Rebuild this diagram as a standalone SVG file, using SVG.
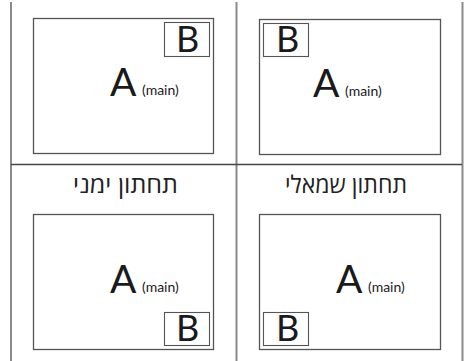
<svg xmlns="http://www.w3.org/2000/svg" width="465" height="361" viewBox="0 0 465 361">
<style>
.grid{stroke:#8a8a8a;stroke-width:2;fill:none}
.hline{stroke:#454545;stroke-width:1.5;fill:none}
.frame{fill:#fff;stroke:#555;stroke-width:1.3}
.bbox{fill:#fff;stroke:#555;stroke-width:1.1}
.a{font-family:Lato,"Open Sans",sans-serif;font-size:39px;fill:#1a1a1a}
.b{font-family:Lato,"Open Sans",sans-serif;font-size:36px;fill:#1a1a1a}
.m{font-family:Lato,"Open Sans",sans-serif;font-size:14px;fill:#1a1a1a}
.t{font-family:"Open Sans","DejaVu Sans",sans-serif;font-size:24px;font-weight:400;fill:#222}
</style>
<rect width="465" height="361" fill="#fff"/>
<g id="connectors">
<line class="grid" x1="11" y1="2" x2="11" y2="361"/>
<line class="grid" x1="236.5" y1="2" x2="236.5" y2="361"/>
<line class="grid" x1="462.5" y1="2" x2="462.5" y2="361"/>
<line class="hline" x1="11" y1="164.5" x2="462" y2="164.5"/>
</g>
<g id="top-left">
<rect class="frame" x="33.5" y="18.5" width="180" height="135"/>
<rect class="bbox" x="164.5" y="22.5" width="45" height="34"/>
<text class="b" x="176" y="52">B</text>
<text class="a" x="110" y="96">A</text>
<text class="m" x="142" y="95">(main)</text>
</g>
<g id="top-right">
<rect class="frame" x="259.5" y="19.5" width="181" height="135"/>
<rect class="bbox" x="263.5" y="23.5" width="45" height="33"/>
<text class="b" x="276" y="52">B</text>
<text class="a" x="313" y="97">A</text>
<text class="m" x="345" y="96">(main)</text>
</g>
<g id="bottom-left">
<text class="t" x="125.5" y="193" text-anchor="middle" direction="rtl" textLength="105" lengthAdjust="spacingAndGlyphs">תחתון ימני</text>
<rect class="frame" x="33.5" y="214.5" width="180" height="135"/>
<rect class="bbox" x="164.5" y="312.5" width="45" height="33"/>
<text class="b" x="176" y="341">B</text>
<text class="a" x="110" y="293">A</text>
<text class="m" x="142" y="292">(main)</text>
</g>
<g id="bottom-right">
<text class="t" x="346" y="193" text-anchor="middle" direction="rtl" textLength="122" lengthAdjust="spacingAndGlyphs">תחתון שמאלי</text>
<rect class="frame" x="259.5" y="214.5" width="181" height="135"/>
<rect class="bbox" x="263.5" y="312.5" width="45" height="33"/>
<text class="b" x="276" y="341">B</text>
<text class="a" x="336" y="293">A</text>
<text class="m" x="368" y="292">(main)</text>
</g>
</svg>
